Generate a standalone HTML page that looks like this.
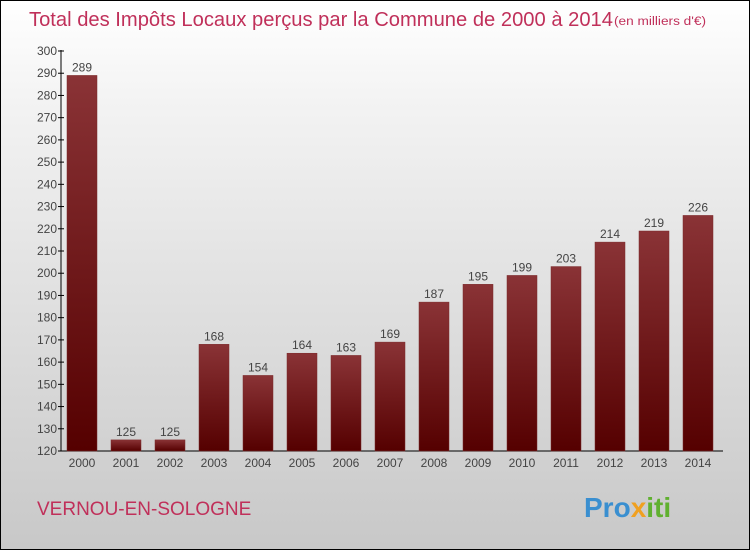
<!DOCTYPE html>
<html><head><meta charset="utf-8"><style>
body{margin:0}
#c{width:748px;height:548px;border:1px solid #000;background:linear-gradient(#fff,#f2f2f2 20%,#c8c8c8);position:relative;font-family:"Liberation Sans",sans-serif}
</style></head><body>
<div id="c">
<svg width="748" height="548" style="position:absolute;left:0;top:0" id="s">
<defs><linearGradient id="bg" x1="0" y1="0" x2="0" y2="1"><stop offset="0" stop-color="#8a3336"/><stop offset="1" stop-color="#550000"/></linearGradient></defs>
<text x="28" y="25" font-size="20" fill="#c0305a" textLength="584" lengthAdjust="spacingAndGlyphs">Total des Impôts Locaux perçus par la Commune de 2000 à 2014</text>
<text x="613" y="24" font-size="11.5" fill="#c0305a" textLength="92" lengthAdjust="spacingAndGlyphs">(en milliers d'€)</text>
<text x="36" y="514" font-size="19" fill="#c0305a">VERNOU-EN-SOLOGNE</text>
<text x="583" y="516" font-size="28" font-weight="bold" fill="#3a8fd0">Pro<tspan fill="#f0a020">x</tspan><tspan fill="#60b030">iti</tspan></text>
<g id="g"></g>
</svg>
</div>
<script>
const years=["2000","2001","2002","2003","2004","2005","2006","2007","2008","2009","2010","2011","2012","2013","2014"];
const values=[289,125,125,168,154,164,163,169,187,195,199,203,214,219,226];
const ticks=[120,130,140,150,160,170,180,190,200,210,220,230,240,250,260,270,280,290,300];
const ns="http://www.w3.org/2000/svg",g=document.getElementById('g');
const y=v=>450-(v-120)*400/180, x=i=>81+44*i;
function mk(t,a,txt){const e=document.createElementNS(ns,t);for(const k in a)e.setAttribute(k,a[k]);if(txt!=null)e.textContent=txt;g.appendChild(e);return e;}
let ax=mk('line',{x1:60,y1:49,x2:60,y2:450,stroke:'#000'});


let bx=mk('line',{x1:60,y1:450,x2:722,y2:450,stroke:'#000'});


ticks.forEach(t=>{
 let l=mk('line',{x1:57,x2:63,y1:y(t),y2:y(t),stroke:'#000'});
 
 
 let tx=mk('text',{x:56,y:y(t)+4,'font-size':12,'text-anchor':'end',fill:'#444'},t);
 
 
});
values.forEach((v,i)=>{
 let r=mk('rect',{x:x(i)-15,y:y(v),width:30,height:450-y(v),fill:'url(#bg)',stroke:'#7a2a2a','stroke-width':0.5});
 
 
 let lb=mk('text',{x:x(i),y:y(v)-4,'font-size':12,'text-anchor':'middle',fill:'#444'},v);
 
 
 let xl=mk('text',{x:x(i),y:466,'font-size':12,'text-anchor':'middle',fill:'#444'},years[i]);
 
 
});
</script>
</body></html>
